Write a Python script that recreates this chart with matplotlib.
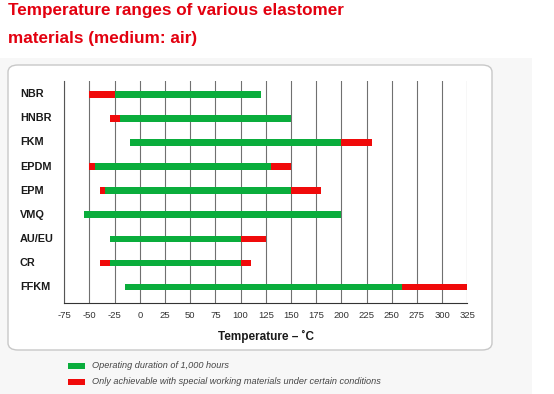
import matplotlib
matplotlib.use("Agg")
import matplotlib.pyplot as plt
from matplotlib.patches import FancyBboxPatch, Rectangle

plt.rcParams['font.family'] = ['Liberation Sans', 'DejaVu Sans']

materials = ["NBR", "HNBR", "FKM", "EPDM", "EPM", "VMQ", "AU/EU", "CR", "FFKM"]
# special (red) low range start, green start, green end, special (red) high range end
red_low = [-50, -30, -10, -50, -40, -55, -30, -40, -15]
green_start = [-25, -20, -10, -45, -35, -55, -30, -30, -15]
green_end = [120, 150, 200, 130, 150, 200, 100, 100, 260]
red_high = [120, 150, 230, 150, 180, 200, 125, 110, 325]
ticks = [-75, -50, -25, 0, 25, 50, 75, 100, 125, 150, 175, 200, 225, 250, 275, 300, 325]

GREEN = "#0aad3c"
RED = "#f00a0a"
W, H = 554, 394

fig = plt.figure(figsize=(W / 100, H / 100), dpi=100)
fig.patch.set_facecolor("white")

# light grey background panel and rounded white box
fig.patches.append(Rectangle((0, 0), 532 / W, (H - 58) / H, transform=fig.transFigure,
                             facecolor="#f7f7f7", edgecolor="none", zorder=0))
fig.patches.append(FancyBboxPatch((8 / W, (H - 350) / H), (492 - 8) / W, (350 - 65) / H,
                                  boxstyle="round,pad=0,rounding_size=0.018",
                                  transform=fig.transFigure, facecolor="white",
                                  edgecolor="#c8c8c8", linewidth=1.0, zorder=1))

fig.text(8 / W, 1 - 15.5 / H, "Temperature ranges of various elastomer", color="#e3000f",
         fontsize=12.3, fontweight="bold", va="baseline", ha="left")
fig.text(8 / W, 1 - 43 / H, "materials (medium: air)", color="#e3000f",
         fontsize=12.3, fontweight="bold", va="baseline", ha="left")

ax = fig.add_axes([64.3 / W, 1 - 303 / H, (467.3 - 64.3) / W, (303 - 81) / H])
ax.set_zorder(2)
ax.patch.set_alpha(0)
ax.set_xlim(-75, 325)
n = len(materials)
ax.set_ylim(n - 1 + 0.66, -0.55)
ypos = list(range(n))
bh = 0.28
for i in range(n):
    if green_start[i] > red_low[i]:
        ax.barh(i, green_start[i] - red_low[i], left=red_low[i], height=bh, color=RED, zorder=3)
    ax.barh(i, green_end[i] - green_start[i], left=green_start[i], height=bh, color=GREEN, zorder=3)
    if red_high[i] > green_end[i]:
        ax.barh(i, red_high[i] - green_end[i], left=green_end[i], height=bh, color=RED, zorder=3)

for t in ticks:
    ax.axvline(t, color="#707070", linewidth=0.8, zorder=1)
for s in ["top", "right"]:
    ax.spines[s].set_visible(False)
ax.spines["left"].set_color("#555555")
ax.spines["bottom"].set_color("#333333")
ax.set_xticks(ticks)
ax.set_xticklabels([str(t) for t in ticks], fontsize=6.8, color="#333333")
ax.tick_params(axis="x", length=0, pad=6)
ax.set_yticks(ypos)
ax.set_yticklabels([])
ax.tick_params(axis="y", length=0)
for i, m in enumerate(materials):
    ax.text(-0.11, i, m, transform=ax.get_yaxis_transform(), ha="left", va="center",
            fontsize=7.8, fontweight="bold", color="#1a1a1a")
ax.set_xlabel("Temperature – ˚C", fontsize=8.5, fontweight="bold", color="#1a1a1a", labelpad=7)

# legend
fig.patches.append(Rectangle((68 / W, 1 - 369 / H), 17 / W, 6 / H, transform=fig.transFigure,
                             facecolor=GREEN, edgecolor="none", zorder=3))
fig.patches.append(Rectangle((68 / W, 1 - 385 / H), 17 / W, 6 / H, transform=fig.transFigure,
                             facecolor=RED, edgecolor="none", zorder=3))
fig.text(92 / W, 1 - 366 / H, "Operating duration of 1,000 hours", fontsize=6.6,
         style="italic", color="#444444", va="center", ha="left")
fig.text(92 / W, 1 - 382 / H, "Only achievable with special working materials under certain conditions",
         fontsize=6.6, style="italic", color="#444444", va="center", ha="left")

fig.savefig("out.png", dpi=100)
